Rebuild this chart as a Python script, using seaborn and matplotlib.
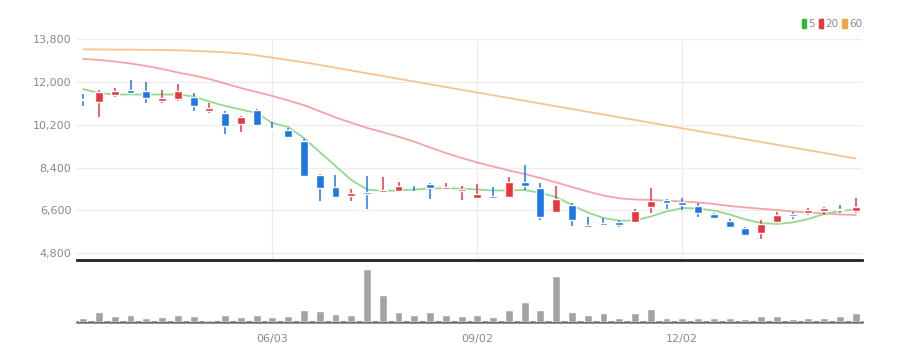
import matplotlib
matplotlib.use("Agg")
import matplotlib.pyplot as plt
from matplotlib.patches import Patch
import numpy as np
import pandas as pd
import seaborn as sns

# weekly candles (50 weeks)
opens = [11270, 11176, 11458, 11655, 11639, 11206, 11290, 11361, 10798, 10688,
         10226, 10839, 10070, 9986, 9536, 8094, 7602, 7211, 7366, 7379,
         7434, 7728, 7703, 7505, 7434, 7139, 7223, 7181, 7812, 7535,
         6538, 6836, 5990, 6075, 6104, 6117, 6761, 7043, 6958, 6790,
         6441, 6172, 5852, 5642, 6130, 6441, 6483, 6580, 6677, 6593]
highs = [11487, 11668, 11765, 12101, 11992, 11668, 11908, 11529, 11109, 10798,
         10560, 10857, 10322, 10057, 9595, 8136, 8094, 7492, 8052, 8022,
         7787, 7728, 7745, 7770, 7644, 7703, 7602, 7997, 8515, 7745,
         7631, 6904, 6340, 6298, 6201, 6651, 7535, 7085, 7139, 6929,
         6483, 6230, 5919, 6201, 6550, 6550, 6693, 6736, 6832, 7114]
lows = [11008, 10545, 11386, 11529, 11109, 11134, 11206, 10798, 10713, 9805,
        9889, 10147, 9990, 9679, 7997, 7013, 7114, 7013, 6680, 7379,
        7408, 7434, 7081, 7476, 7043, 7114, 7097, 7156, 7476, 6201,
        6510, 5948, 5877, 5990, 5919, 6062, 6483, 6651, 6622, 6340,
        6230, 5852, 5570, 5390, 6130, 6230, 6411, 6411, 6483, 6510]
closes = [11230, 11571, 11639, 11555, 11319, 11319, 11626, 10995, 10911, 10154,
          10545, 10175, 10015, 9704, 8052, 7535, 7181, 7324, 7307, 7463,
          7631, 7661, 7535, 7577, 7505, 7307, 7114, 7812, 7644, 6340,
          7072, 6201, 5894, 5990, 5978, 6592, 7013, 6929, 6820, 6483,
          6298, 5894, 5570, 6020, 6411, 6383, 6622, 6719, 6622, 6736]

ma5 = [11702, 11542, 11479, 11479, 11479, 11479, 11479, 11395, 11184, 10995,
       10848, 10701, 10281, 10112, 9650, 9061, 8472, 7884, 7484, 7421,
       7442, 7484, 7526, 7535, 7514, 7484, 7442, 7442, 7463, 7337,
       7169, 6832, 6517, 6285, 6172, 6180, 6348, 6559, 6706, 6685,
       6601, 6433, 6222, 6075, 6033, 6096, 6243, 6454, 6580, 6643]
ma20 = [12972, 12930, 12866, 12782, 12677, 12551, 12404, 12278, 12131, 11941,
        11752, 11584, 11416, 11227, 11030, 10775, 10515, 10290, 10075, 9895,
        9705, 9495, 9250, 9019, 8809, 8619, 8451, 8283, 8136, 7968,
        7778, 7589, 7400, 7232, 7110, 7064, 7043, 7013, 6979, 6937,
        6874, 6790, 6727, 6673, 6622, 6559, 6517, 6475, 6433, 6412]
ma60 = [13380, 13375, 13371, 13367, 13358, 13350, 13337, 13316, 13287, 13253,
        13207, 13127, 13026, 12930, 12833, 12719, 12606, 12488, 12370, 12257,
        12139, 12025, 11908, 11794, 11676, 11563, 11445, 11332, 11214, 11100,
        10983, 10869, 10751, 10638, 10520, 10407, 10289, 10175, 10058, 9944,
        9827, 9713, 9595, 9482, 9364, 9250, 9132, 9019, 8901, 8788]

volume = [4.0, 10.0, 6.0, 7.0, 4.3, 5.3, 7.3, 6.0, 2.3, 7.0,
          5.3, 7.0, 5.3, 6.0, 12.0, 11.0, 7.7, 7.3, 53.3, 26.7,
          10.0, 7.0, 10.0, 7.3, 6.0, 7.3, 5.3, 12.3, 20.0, 12.0,
          46.0, 10.0, 7.3, 9.0, 4.0, 9.0, 12.7, 4.3, 4.3, 4.0,
          4.0, 4.3, 2.7, 6.0, 5.7, 2.7, 4.3, 4.3, 5.7, 8.7]

tick_pos = [12, 25, 38]
tick_labels = ["06/03", "09/02", "12/02"]
price_ticks = [4800, 6600, 8400, 10200, 12000, 13800]

df = pd.DataFrame({"i": np.arange(len(opens)), "open": opens, "high": highs,
                   "low": lows, "close": closes, "ma5": ma5, "ma20": ma20,
                   "ma60": ma60, "vol": np.array(volume) * 10000})

RED = "#e8363d"
BLUE = "#1f77e6"
up = df["close"] >= df["open"]
df["color"] = np.where(up, RED, BLUE)

sns.set_style("white")
plt.rcParams["font.family"] = ["Liberation Sans Narrow", "DejaVu Sans"]

fig = plt.figure(figsize=(9.14, 3.62), dpi=100)
ax = fig.add_axes([0.0842, 0.2818, 0.8589, 0.6096])
axv = fig.add_axes([0.0842, 0.1105, 0.8589, 0.1657], sharex=ax)

# moving averages
sns.lineplot(data=df, x="i", y="ma60", ax=ax, color="#f7c393", lw=1.3)
sns.lineplot(data=df, x="i", y="ma20", ax=ax, color="#f4a3a6", lw=1.3)
sns.lineplot(data=df, x="i", y="ma5", ax=ax, color="#93d98f", lw=1.3)

# candles
ax.vlines(df["i"], df["low"], df["high"], colors=df["color"], lw=1.1, zorder=3)
body_h = (df["close"] - df["open"]).abs().clip(lower=45)
body_b = df[["open", "close"]].min(axis=1)
ax.bar(df["i"], body_h, bottom=body_b, width=0.5, color=df["color"], zorder=4)

ax.set_xlim(-0.4, 49.4)
ax.set_ylim(4518, 13800)
ax.set_yticks(price_ticks)
ax.set_yticklabels([f"{v:,}" for v in price_ticks])
ax.set_xticks(tick_pos)
ax.tick_params(axis="x", labelbottom=False, length=0)
ax.tick_params(axis="y", length=0, pad=4, labelsize=8, labelcolor="#8a8a8a")
ax.grid(True, color="#ececec", lw=0.9)
for s in ["top", "right", "left"]:
    ax.spines[s].set_visible(False)
ax.spines["bottom"].set_color("#222222")
ax.spines["bottom"].set_linewidth(2)
ax.set_xlabel("")
ax.set_ylabel("")

leg = ax.legend(handles=[Patch(color="#33b83a", label="5"),
                         Patch(color="#e8363d", label="20"),
                         Patch(color="#f0a448", label="60")],
                loc="lower right", bbox_to_anchor=(1.0, 1.045), ncol=3, frameon=False,
                handlelength=0.45, handleheight=0.9, handletextpad=0.2,
                columnspacing=0.35, fontsize=7.5, borderaxespad=0, borderpad=0)
for t in leg.get_texts():
    t.set_color("#8a8a8a")

# volume
axv.bar(df["i"], df["vol"], width=0.5, color="#a3a3a3", zorder=3)
axv.set_ylim(0, 600000)
axv.set_yticks([])
axv.set_xticks(tick_pos)
axv.set_xticklabels(tick_labels)
axv.tick_params(axis="x", length=3, width=1, color="#555555", pad=6,
                labelsize=8, labelcolor="#8a8a8a")
for s in ["top", "right", "left"]:
    axv.spines[s].set_visible(False)
axv.spines["bottom"].set_color("#707070")
axv.spines["bottom"].set_linewidth(1.8)
axv.set_xlabel("")
axv.set_ylabel("")

fig.savefig("out.png", dpi=100)
